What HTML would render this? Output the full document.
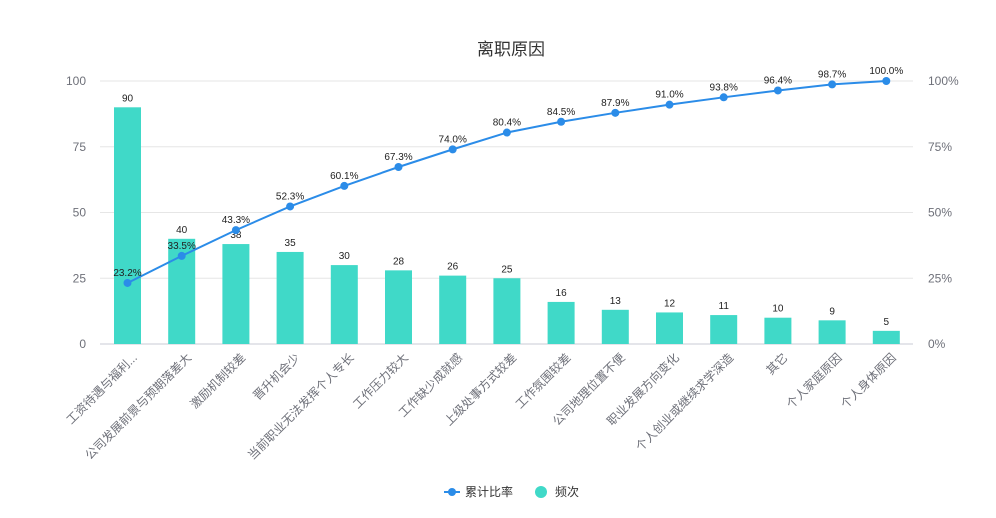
<!DOCTYPE html>
<html><head><meta charset="utf-8"><style>
html,body{margin:0;padding:0;background:#fff;}
svg text{font-family:"Liberation Sans","Noto Sans CJK SC",sans-serif;}
</style></head><body>
<svg id="c" width="996" height="513" xmlns="http://www.w3.org/2000/svg"></svg>
<script>
const s=document.getElementById('c');
let h='';
h+='<text x="511" y="55" text-anchor="middle" font-size="17" fill="#333">离职原因</text>';
const y0=344,k=2.63;
[0,25,50,75,100].forEach((v,i)=>{const y=y0-v*k;
 h+=`<line x1="100" x2="913" y1="${y}" y2="${y}" stroke="${v==0?'#c8cbd6':'#e6e6e6'}" stroke-width="1"/>`;
 h+=`<text x="86" y="${y+4}" text-anchor="end" font-size="12" fill="#6e7079">${v}</text>`;
 h+=`<text x="928" y="${y+4}" font-size="12" fill="#6e7079">${v}%</text>`;});
const cats=["工资待遇与福利...","公司发展前景与预期落差大","激励机制较差","晋升机会少","当前职业无法发挥个人专长","工作压力较大","工作缺少成就感","上级处事方式较差","工作氛围较差","公司地理位置不便","职业发展方向变化","个人创业或继续求学深造","其它","个人家庭原因","个人身体原因"];
const vals=[90,40,38,35,30,28,26,25,16,13,12,11,10,9,5];
const cum=[23.2,33.5,43.3,52.3,60.1,67.3,74.0,80.4,84.5,87.9,91.0,93.8,96.4,98.7,100.0];
let pts=[];
vals.forEach((v,i)=>{const x=127.5+54.2*i;const y=y0-v*k;
 h+=`<rect x="${x-13.5}" y="${y}" width="27" height="${v*k}" fill="#40d9c8"/>`;
 h+=`<text x="${x}" y="${y-6}" text-anchor="middle" font-size="10" fill="#222">${v}</text>`;
 h+=`<text transform="translate(${x+4},352) rotate(-45)" text-anchor="end" font-size="12" fill="#6e7079" dy="9">${cats[i]}</text>`;
 pts.push([x,y0-cum[i]*k]);});
h+=`<path d="M${pts.map(p=>p.join(',')).join(' L')}" fill="none" stroke="#2b8ce8" stroke-width="2"/>`;
pts.forEach((p,i)=>{h+=`<circle cx="${p[0]}" cy="${p[1]}" r="4" fill="#2b8ce8"/>`;
 h+=`<text x="${p[0]}" y="${p[1]-7}" text-anchor="middle" font-size="10" fill="#222">${cum[i].toFixed(1)}%</text>`;});
h+='<line x1="444" x2="460" y1="492" y2="492" stroke="#2b8ce8" stroke-width="2"/><circle cx="452" cy="492" r="4" fill="#2b8ce8"/>';
h+='<text x="465" y="496" font-size="12" fill="#333">累计比率</text>';
h+='<circle cx="541" cy="492" r="6" fill="#40d9c8"/><text x="555" y="496" font-size="12" fill="#333">频次</text>';
s.innerHTML=h;
</script>
</body></html>
